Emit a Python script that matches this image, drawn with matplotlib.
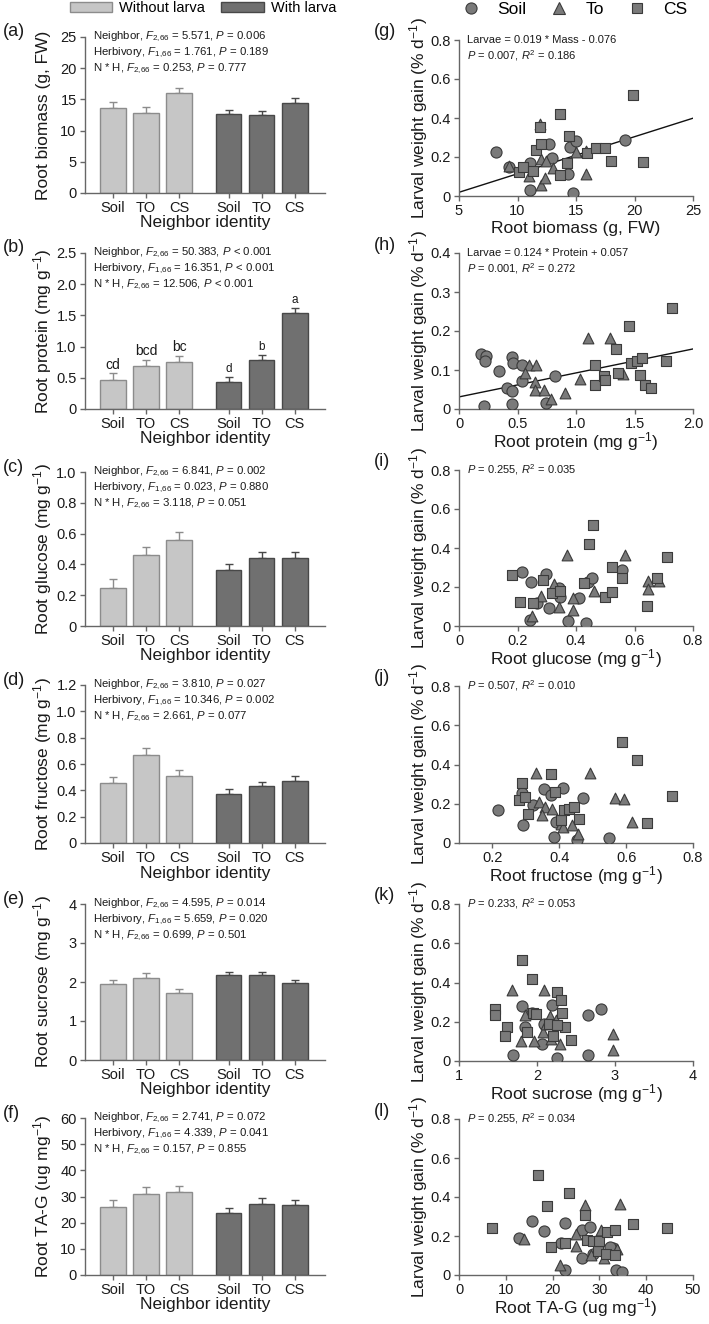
import numpy as np
import matplotlib
matplotlib.use("Agg")
import matplotlib.pyplot as plt
from matplotlib.patches import Patch
from matplotlib.lines import Line2D

plt.rcParams['font.family'] = ['Liberation Sans', 'DejaVu Sans']
plt.rcParams['mathtext.fontset'] = 'custom'
plt.rcParams['mathtext.rm'] = 'Liberation Sans'
plt.rcParams['mathtext.it'] = 'Liberation Sans:italic'
plt.rcParams['mathtext.bf'] = 'Liberation Sans:bold'

# ---------------- bar data (without larva x3, with larva x3) ----------------
groups = ['Soil', 'TO', 'CS', 'Soil', 'TO', 'CS']

biomass_mean = [13.6, 12.8, 16.0, 12.6, 12.5, 14.5]
biomass_se = [0.95, 0.95, 0.9, 0.7, 0.7, 0.7]
protein_mean = [0.47, 0.69, 0.75, 0.44, 0.79, 1.54]
protein_se = [0.10, 0.10, 0.10, 0.08, 0.08, 0.08]
protein_letters = ['cd', 'bcd', 'bc', 'd', 'b', 'a']
glucose_mean = [0.25, 0.46, 0.56, 0.365, 0.44, 0.44]
glucose_se = [0.055, 0.055, 0.053, 0.037, 0.04, 0.039]
fructose_mean = [0.452, 0.667, 0.508, 0.37, 0.432, 0.468]
fructose_se = [0.051, 0.051, 0.05, 0.037, 0.034, 0.04]
sucrose_mean = [1.94, 2.11, 1.72, 2.17, 2.17, 1.98]
sucrose_se = [0.11, 0.11, 0.11, 0.09, 0.09, 0.08]
tag_mean = [26.0, 31.1, 31.6, 23.6, 27.3, 26.8]
tag_se = [2.6, 2.6, 2.6, 1.9, 2.0, 1.8]

# ---------------- scatter data ----------------
# (g) root biomass
g_soil_x = [8.19, 9.27, 11.04, 11.10, 12.69, 12.98, 14.32, 14.46, 15.03, 14.74, 19.22]
g_soil_y = [0.227, 0.147, 0.171, 0.031, 0.267, 0.197, 0.113, 0.250, 0.280, 0.017, 0.287]
g_to_x = [9.27, 10.98, 11.89, 12.04, 12.04, 12.32, 12.46, 13.03, 15.03, 15.88, 15.88]
g_to_y = [0.156, 0.104, 0.369, 0.191, 0.056, 0.091, 0.181, 0.142, 0.227, 0.113, 0.232]
g_cs_x = [10.13, 10.47, 11.32, 11.61, 11.95, 12.04, 13.60, 13.60, 14.23, 14.40, 15.94,
          16.74, 17.45, 18.02, 19.87, 20.73]
g_cs_y = [0.125, 0.147, 0.130, 0.236, 0.356, 0.267, 0.421, 0.108, 0.168, 0.308, 0.219,
          0.246, 0.246, 0.181, 0.518, 0.176]
g_line_x = [5, 25]
g_line_y = [0.019, 0.399]

# (h) root protein
h_soil_x = [0.21, 0.19, 0.23, 0.22, 0.34, 0.45, 0.46, 0.45, 0.41, 0.45, 0.54, 0.54, 0.74, 0.82]
h_soil_y = [0.007, 0.142, 0.135, 0.122, 0.097, 0.133, 0.118, 0.014, 0.054, 0.045, 0.071,
            0.112, 0.015, 0.085]
h_to_x = [0.60, 0.56, 0.65, 0.66, 0.65, 0.73, 0.79, 0.91, 1.03, 1.10, 1.29, 1.40]
h_to_y = [0.114, 0.092, 0.069, 0.114, 0.050, 0.048, 0.026, 0.041, 0.077, 0.182, 0.182, 0.091]
h_cs_x = [1.16, 1.16, 1.24, 1.25, 1.34, 1.36, 1.45, 1.47, 1.52, 1.56, 1.55, 1.59, 1.64, 1.77, 1.82]
h_cs_y = [0.112, 0.062, 0.085, 0.075, 0.154, 0.092, 0.212, 0.118, 0.122, 0.132, 0.088,
          0.061, 0.054, 0.122, 0.259]
h_line_x = [0, 2.0]
h_line_y = [0.031, 0.154]

# (i) root glucose
i_soil_x = [0.217, 0.247, 0.244, 0.299, 0.268, 0.307, 0.342, 0.344, 0.373, 0.410, 0.435,
            0.441, 0.456, 0.557]
i_soil_y = [0.279, 0.224, 0.031, 0.265, 0.116, 0.091, 0.193, 0.150, 0.027, 0.144, 0.014,
            0.227, 0.244, 0.287]
i_to_x = [0.250, 0.281, 0.324, 0.342, 0.390, 0.390, 0.369, 0.462, 0.569, 0.646, 0.646, 0.683]
i_to_y = [0.051, 0.154, 0.215, 0.099, 0.082, 0.142, 0.364, 0.181, 0.364, 0.231, 0.188, 0.232]
i_cs_x = [0.181, 0.207, 0.253, 0.287, 0.319, 0.344, 0.426, 0.444, 0.458, 0.498, 0.523,
          0.524, 0.557, 0.643, 0.678, 0.711]
i_cs_y = [0.262, 0.125, 0.116, 0.236, 0.168, 0.181, 0.222, 0.421, 0.518, 0.150, 0.176,
          0.304, 0.244, 0.104, 0.244, 0.356]

# (j) root fructose
j_soil_x = [0.218, 0.287, 0.292, 0.320, 0.355, 0.375, 0.383, 0.390, 0.410, 0.472, 0.452, 0.548]
j_soil_y = [0.167, 0.255, 0.090, 0.196, 0.277, 0.243, 0.031, 0.107, 0.281, 0.230, 0.014, 0.026]
j_to_x = [0.330, 0.340, 0.357, 0.377, 0.348, 0.405, 0.410, 0.438, 0.455, 0.493, 0.568, 0.593, 0.618]
j_to_y = [0.357, 0.209, 0.184, 0.175, 0.141, 0.099, 0.082, 0.090, 0.048, 0.357, 0.231, 0.226, 0.109]
j_cs_x = [0.278, 0.288, 0.297, 0.307, 0.375, 0.388, 0.405, 0.413, 0.428, 0.445, 0.460,
          0.587, 0.632, 0.738, 0.662]
j_cs_y = [0.221, 0.306, 0.235, 0.150, 0.354, 0.260, 0.116, 0.170, 0.175, 0.184, 0.124,
          0.516, 0.422, 0.240, 0.102]

# (k) root sucrose
k_soil_x = [1.69, 1.81, 1.84, 1.94, 2.06, 2.09, 2.19, 2.25, 2.65, 2.65, 2.82]
k_soil_y = [0.032, 0.279, 0.174, 0.247, 0.089, 0.191, 0.284, 0.015, 0.233, 0.029, 0.267]
k_to_x = [1.79, 1.68, 1.84, 1.96, 2.09, 2.08, 2.11, 2.17, 2.18, 2.24, 2.29, 2.98, 2.98]
k_to_y = [0.100, 0.364, 0.233, 0.100, 0.361, 0.148, 0.191, 0.228, 0.114, 0.208, 0.089, 0.136, 0.054]
k_cs_x = [1.46, 1.46, 1.62, 1.59, 1.81, 1.87, 1.93, 1.95, 1.99, 2.15, 2.21, 2.26, 2.31,
          2.32, 2.36, 2.44, 2.26]
k_cs_y = [0.267, 0.233, 0.174, 0.126, 0.517, 0.148, 0.420, 0.245, 0.238, 0.187, 0.126,
          0.352, 0.310, 0.245, 0.174, 0.106, 0.182]

# (l) root TA-G
l_soil_x = [12.9, 15.7, 18.1, 21.8, 22.7, 22.7, 26.2, 26.3, 27.9, 28.6, 32.9, 33.6, 34.9, 32.3]
l_soil_y = [0.192, 0.279, 0.226, 0.166, 0.266, 0.026, 0.086, 0.231, 0.245, 0.108, 0.140,
            0.026, 0.014, 0.146]
l_to_x = [13.9, 21.6, 24.9, 24.9, 26.9, 28.2, 30.4, 30.9, 34.3, 33.8]
l_to_y = [0.183, 0.051, 0.209, 0.151, 0.360, 0.103, 0.231, 0.086, 0.365, 0.134]
l_cs_x = [7.1, 16.8, 18.7, 19.6, 23.6, 22.6, 26.9, 27.4, 28.6, 29.8, 30.0, 31.4, 31.6,
          33.4, 33.4, 37.1, 44.4]
l_cs_y = [0.240, 0.514, 0.355, 0.146, 0.420, 0.166, 0.308, 0.180, 0.176, 0.123, 0.175,
          0.108, 0.218, 0.231, 0.103, 0.262, 0.240]

# ---------------- styling ----------------
W, H = 709, 1324
LIGHT, LIGHT_EDGE = '#c6c6c6', '#8c8c8c'
DARK, DARK_EDGE = '#707070', '#484848'
MARK, MARK_EDGE = '#7a7a7a', '#3a3a3a'
SPINE = '#666666'
TXT = '#1a1a1a'

fig = plt.figure(figsize=(W / 100, H / 100), dpi=100)


def px_axes(left, top, right, bottom):
    return fig.add_axes([left / W, 1 - bottom / H, (right - left) / W, (bottom - top) / H])


def style(ax):
    for s in ['top', 'right']:
        ax.spines[s].set_visible(False)
    for s in ['left', 'bottom']:
        ax.spines[s].set_color(SPINE)
        ax.spines[s].set_linewidth(1.0)
    ax.tick_params(direction='out', length=3.5, width=1.0, color=SPINE,
                   labelsize=10.5, labelcolor=TXT, pad=2.5)


def fmt(vals, dec):
    return ['0' if v == 0 else (f'{v:.{dec}f}' if dec else f'{v:g}') for v in vals]


def bar_panel(top, bottom, mean, se, ylim, ystep, dec, ylabel, stats, letters=None):
    ax = px_axes(85, top, 325, bottom)
    pos = [0, 1, 2, 3.5, 4.5, 5.5]
    fc = [LIGHT] * 3 + [DARK] * 3
    ec = [LIGHT_EDGE] * 3 + [DARK_EDGE] * 3
    ax.bar(pos, mean, width=0.78, color=fc, edgecolor=ec, linewidth=1.0, zorder=2)
    for p, m, s, c in zip(pos, mean, se, ec):
        ax.errorbar(p, m, yerr=[[0], [s]], fmt='none', ecolor=c, elinewidth=1.0,
                    capsize=3, capthick=1.0, zorder=1)
    ax.set_xlim(-0.85, 6.42)
    ax.set_ylim(0, ylim)
    ticks = np.round(np.arange(0, ylim + ystep / 2, ystep), 4)
    ax.set_yticks(ticks)
    ax.set_yticklabels(fmt(ticks, dec))
    ax.set_xticks(pos)
    ax.set_xticklabels(groups)
    style(ax)
    ax.set_ylabel(ylabel, fontsize=12.5, color=TXT, va='center')
    ax.yaxis.set_label_coords(-0.175, 0.5)
    ax.set_xlabel('Neighbor identity', fontsize=12.5, color=TXT, va='center')
    ax.xaxis.set_label_coords(0.5, -0.19)
    for k, line in enumerate(stats):
        ax.annotate(line, xy=(0, 1), xycoords='axes fraction', xytext=(6, -11.5 * k),
                    textcoords='offset points', ha='left', va='center', fontsize=8.2, color=TXT)
    if letters:
        for k, (p, m, s, t) in enumerate(zip(pos, mean, se, letters)):
            ax.text(p, m + s + ylim * 0.012, t, ha='center', va='bottom',
                    fontsize=10 if k < 3 else 8.5, color=TXT)
    return ax


def scatter_panel(top, bottom, sx, sy, tx, ty, cx, cy, xlim, xticks, xdec, ylim, ystep,
                  xlabel, stats, line=None):
    ax = px_axes(459, top, 693, bottom)
    ax.scatter(sx, sy, marker='o', s=64, c=MARK, edgecolors=MARK_EDGE, linewidths=0.8, zorder=3)
    ax.scatter(tx, ty, marker='^', s=60, c=MARK, edgecolors=MARK_EDGE, linewidths=0.8, zorder=3)
    ax.scatter(cx, cy, marker='s', s=52, c=MARK, edgecolors=MARK_EDGE, linewidths=0.8, zorder=3)
    if line is not None:
        ax.plot(line[0], line[1], color='#111111', lw=1.0, zorder=2)
    ax.set_xlim(*xlim)
    ax.set_ylim(0, ylim)
    ax.set_xticks(xticks)
    ax.set_xticklabels(fmt(xticks, xdec))
    yt = np.round(np.arange(0, ylim + ystep / 2, ystep), 4)
    ax.set_yticks(yt)
    ax.set_yticklabels(fmt(yt, 1))
    style(ax)
    ax.set_ylabel('Larval weight gain (% d$^{-1}$)', fontsize=12.5, color=TXT, va='center')
    ax.yaxis.set_label_coords(-0.175, 0.5)
    ax.set_xlabel(xlabel, fontsize=12.5, color=TXT, va='center')
    ax.xaxis.set_label_coords(0.5, -0.21)
    for k, t in enumerate(stats):
        ax.annotate(t, xy=(0, 1), xycoords='axes fraction', xytext=(5.5, -11.5 * k),
                    textcoords='offset points', ha='left', va='center', fontsize=8, color=TXT)
    return ax


def stats3(n, h, nh):
    return ['Neighbor, $F_{2{,}66}$ = ' + n,
            'Herbivory, $F_{1{,}66}$ = ' + h,
            'N * H, $F_{2{,}66}$ = ' + nh]


rows_l = [(37, 193), (253, 409), (472, 626), (685, 843), (904, 1060), (1118, 1275)]
rows_r = [(40, 196), (253, 409), (470, 626), (686, 843), (904, 1061), (1119, 1275)]

bar_panel(*rows_l[0], biomass_mean, biomass_se, 25, 5, 0, 'Root biomass (g, FW)',
          stats3('5.571, $P$ = 0.006', '1.761, $P$ = 0.189', '0.253, $P$ = 0.777'))
bar_panel(*rows_l[1], protein_mean, protein_se, 2.5, 0.5, 1, 'Root protein (mg g$^{-1}$)',
          stats3('50.383, $P$ < 0.001', '16.351, $P$ < 0.001', '12.506, $P$ < 0.001'),
          letters=protein_letters)
bar_panel(*rows_l[2], glucose_mean, glucose_se, 1.0, 0.2, 1, 'Root glucose (mg g$^{-1}$)',
          stats3('6.841, $P$ = 0.002', '0.023, $P$ = 0.880', '3.118, $P$ = 0.051'))
bar_panel(*rows_l[3], fructose_mean, fructose_se, 1.2, 0.2, 1, 'Root fructose (mg g$^{-1}$)',
          stats3('3.810, $P$ = 0.027', '10.346, $P$ = 0.002', '2.661, $P$ = 0.077'))
bar_panel(*rows_l[4], sucrose_mean, sucrose_se, 4, 1, 0, 'Root sucrose (mg g$^{-1}$)',
          stats3('4.595, $P$ = 0.014', '5.659, $P$ = 0.020', '0.699, $P$ = 0.501'))
bar_panel(*rows_l[5], tag_mean, tag_se, 60, 10, 0, 'Root TA-G (ug mg$^{-1}$)',
          stats3('2.741, $P$ = 0.072', '4.339, $P$ = 0.041', '0.157, $P$ = 0.855'))

scatter_panel(*rows_r[0], g_soil_x, g_soil_y, g_to_x, g_to_y, g_cs_x, g_cs_y,
              (5, 25), [5, 10, 15, 20, 25], 0, 0.8, 0.2, 'Root biomass (g, FW)',
              ['Larvae = 0.019 * Mass - 0.076', '$P$ = 0.007, $R^2$ = 0.186'],
              line=(g_line_x, g_line_y))
scatter_panel(*rows_r[1], h_soil_x, h_soil_y, h_to_x, h_to_y, h_cs_x, h_cs_y,
              (0, 2.0), [0, 0.5, 1.0, 1.5, 2.0], 1, 0.4, 0.1, 'Root protein (mg g$^{-1}$)',
              ['Larvae = 0.124 * Protein + 0.057', '$P$ = 0.001, $R^2$ = 0.272'],
              line=(h_line_x, h_line_y))
scatter_panel(*rows_r[2], i_soil_x, i_soil_y, i_to_x, i_to_y, i_cs_x, i_cs_y,
              (0, 0.8), [0, 0.2, 0.4, 0.6, 0.8], 1, 0.8, 0.2, 'Root glucose (mg g$^{-1}$)',
              ['$P$ = 0.255, $R^2$ = 0.035'])
scatter_panel(*rows_r[3], j_soil_x, j_soil_y, j_to_x, j_to_y, j_cs_x, j_cs_y,
              (0.1, 0.8), [0.2, 0.4, 0.6, 0.8], 1, 0.8, 0.2, 'Root fructose (mg g$^{-1}$)',
              ['$P$ = 0.507, $R^2$ = 0.010'])
scatter_panel(*rows_r[4], k_soil_x, k_soil_y, k_to_x, k_to_y, k_cs_x, k_cs_y,
              (1, 4), [1, 2, 3, 4], 0, 0.8, 0.2, 'Root sucrose (mg g$^{-1}$)',
              ['$P$ = 0.233, $R^2$ = 0.053'])
scatter_panel(*rows_r[5], l_soil_x, l_soil_y, l_to_x, l_to_y, l_cs_x, l_cs_y,
              (0, 50), [0, 10, 20, 30, 40, 50], 0, 0.8, 0.2, 'Root TA-G (ug mg$^{-1}$)',
              ['$P$ = 0.255, $R^2$ = 0.034'])

# panel letters
for lab, (t, b) in zip('abcdef', rows_l):
    fig.text(3 / W, 1 - (t - 5) / H, f'({lab})', fontsize=13, color=TXT, ha='left', va='center')
for lab, (t, b) in zip('ghijkl', rows_r):
    fig.text(374 / W, 1 - (t - 8) / H, f'({lab})', fontsize=13, color=TXT, ha='left', va='center')

# legends
bar_handles = [Patch(facecolor=LIGHT, edgecolor=LIGHT_EDGE, label='Without larva'),
               Patch(facecolor=DARK, edgecolor=DARK_EDGE, label='With larva')]
fig.legend(handles=bar_handles, loc='center', bbox_to_anchor=(203 / W, 1 - 8 / H), ncol=2,
           frameon=False, fontsize=10.5, handlelength=2.9, handleheight=0.7,
           columnspacing=1.1, handletextpad=0.5, borderpad=0)
sc_handles = [Line2D([], [], marker=m, ls='none', markersize=ms, markerfacecolor=MARK,
                     markeredgecolor=MARK_EDGE, markeredgewidth=0.8, label=l)
              for m, ms, l in [('o', 8, 'Soil'), ('^', 8, 'To'), ('s', 7, 'CS')]]
fig.legend(handles=sc_handles, loc='center', bbox_to_anchor=(574 / W, 1 - 9 / H), ncol=3,
           frameon=False, fontsize=12.5, columnspacing=1.3, handlelength=1.2,
           handletextpad=0.9, borderpad=0)

fig.savefig('out.png', dpi=100)
